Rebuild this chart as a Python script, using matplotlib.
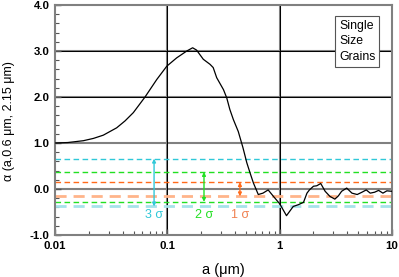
import matplotlib
matplotlib.use("Agg")
import matplotlib.pyplot as plt
from matplotlib.ticker import FixedLocator, MultipleLocator, LogLocator, NullFormatter
import numpy as np

# curve: a (um) vs alpha
a_vals = [0.01, 0.013, 0.0179, 0.022, 0.0269, 0.0354, 0.042, 0.0498, 0.0633, 0.0805, 0.0989, 0.121,
          0.149, 0.168, 0.182, 0.209, 0.24, 0.256, 0.275, 0.316, 0.338, 0.36,
          0.387, 0.428, 0.471, 0.51, 0.545, 0.584, 0.645, 0.71, 0.79, 0.88,
          1.0, 1.15, 1.32, 1.47, 1.63, 1.75, 1.84, 2.0, 2.14, 2.32, 2.54, 2.8,
          3.1, 3.33, 3.56, 3.95, 4.4, 4.9, 5.4, 5.9, 6.4, 7.0, 7.6, 8.3, 9.0, 10.0]
alpha_vals = [1.0, 1.01, 1.05, 1.1, 1.17, 1.33, 1.48, 1.66, 2.0, 2.38, 2.67, 2.85,
              3.0, 3.07, 3.02, 2.82, 2.71, 2.64, 2.42, 2.16, 1.98, 1.73,
              1.51, 1.25, 0.9, 0.57, 0.35, 0.13, -0.12, -0.09, -0.02, -0.16,
              -0.32, -0.58, -0.38, -0.34, -0.29, -0.09, -0.02, 0.06, 0.07, 0.12, -0.05, -0.16,
              -0.22, -0.15, -0.05, 0.02, -0.09, -0.12, -0.07, -0.02, -0.09, -0.07, -0.03, -0.09, -0.04, -0.05]

# sigma bands
sigma_names = ["1 σ", "2 σ", "3 σ"]
sigma_upper = [0.15, 0.37, 0.66]
sigma_lower = [-0.16, -0.28, -0.38]
sigma_arrow_a = [0.443, 0.212, 0.0762]
label_y = -0.56

up_colors = ["#ff6a1a", "#22e022", "#30c8d8"]
low_colors = ["#ffb48a", "#22e022", "#a6e2ea"]
low_widths = [2.0, 1.0, 2.0]
label_colors = ["#f08050", "#22e022", "#30c8d8"]

x_ticks = [0.01, 0.1, 1, 10]
x_ticklabels = ["0.01", "0.1", "1", "10"]
y_ticks = [-1, 0, 1, 2, 3, 4]

plt.rcParams['font.family'] = ['Liberation Sans', 'DejaVu Sans']

fig = plt.figure(figsize=(3.99, 2.77), dpi=100)
ax = fig.add_axes([55/399, 42/277, 337/399, 230/277])

ax.set_xscale('log')
ax.set_xlim(0.01, 10)
ax.set_ylim(-1, 4)

#グリッド
for yv in [0, 1, 2, 3]:
    ax.axhline(yv, color='#808080', lw=1.5, zorder=1)
for yv in [2, 3]:
    ax.axhline(yv, color='black', lw=0.7, zorder=1.1)
for xv in [0.1, 1]:
    ax.axvline(xv, color='#808080', lw=1.5, zorder=1)
    ax.axvline(xv, color='black', lw=0.7, zorder=1.1)

#σの線
for i in range(3):
    ax.axhline(sigma_upper[i], color=up_colors[i], lw=1.0, ls=(0, (4, 2.5)), zorder=2)
    ax.axhline(sigma_lower[i], color=low_colors[i], lw=low_widths[i], ls=(0, (4, 2.5)), zorder=2)
    ax.annotate('', xy=(sigma_arrow_a[i], sigma_upper[i]), xytext=(sigma_arrow_a[i], sigma_lower[i]),
                arrowprops=dict(arrowstyle='<|-|>', color=up_colors[i], lw=1.0,
                                mutation_scale=5, shrinkA=0, shrinkB=0), zorder=3)
    ax.text(sigma_arrow_a[i], label_y, sigma_names[i], color=label_colors[i],
            fontsize=9, ha='center', va='center')

ax.plot(a_vals, alpha_vals, color='black', lw=0.9, zorder=4)

fig.text(339/399, 1 - 20/277, "Single\nSize\nGrains", fontsize=8.8, ha='left', va='top',
         linespacing=1.38,
         bbox=dict(boxstyle='square,pad=0.3', fc='white', ec='#555555', lw=0.8), zorder=5)

ax.xaxis.set_major_locator(FixedLocator(x_ticks))
ax.set_xticklabels(x_ticklabels)
ax.xaxis.set_minor_locator(LogLocator(base=10, subs=np.arange(2, 10)))
ax.xaxis.set_minor_formatter(NullFormatter())
ax.set_yticks(y_ticks)
ax.set_yticklabels(["%.1f" % v for v in y_ticks])
ax.yaxis.set_minor_locator(MultipleLocator(0.2))

ax.tick_params(which='both', direction='in', colors='#555555', labelcolor='black', top=False, right=False)
ax.tick_params(which='major', length=4, width=1, labelsize=8.2, pad=4)
ax.tick_params(which='minor', length=3, width=0.8)
for lab in ax.get_xticklabels() + ax.get_yticklabels():
    lab.set_fontweight('bold')

for s in ax.spines.values():
    s.set_color('#808080')
    s.set_linewidth(1.5)

ax.set_xlabel("a (μm)", fontsize=10.5)
ax.set_ylabel("α (a,0.6 μm, 2.15 μm)", fontsize=9)
ax.xaxis.set_label_coords(0.5, -0.122)
ax.yaxis.set_label_coords(-0.119, 0.496)

fig.savefig("out.png", dpi=100)
